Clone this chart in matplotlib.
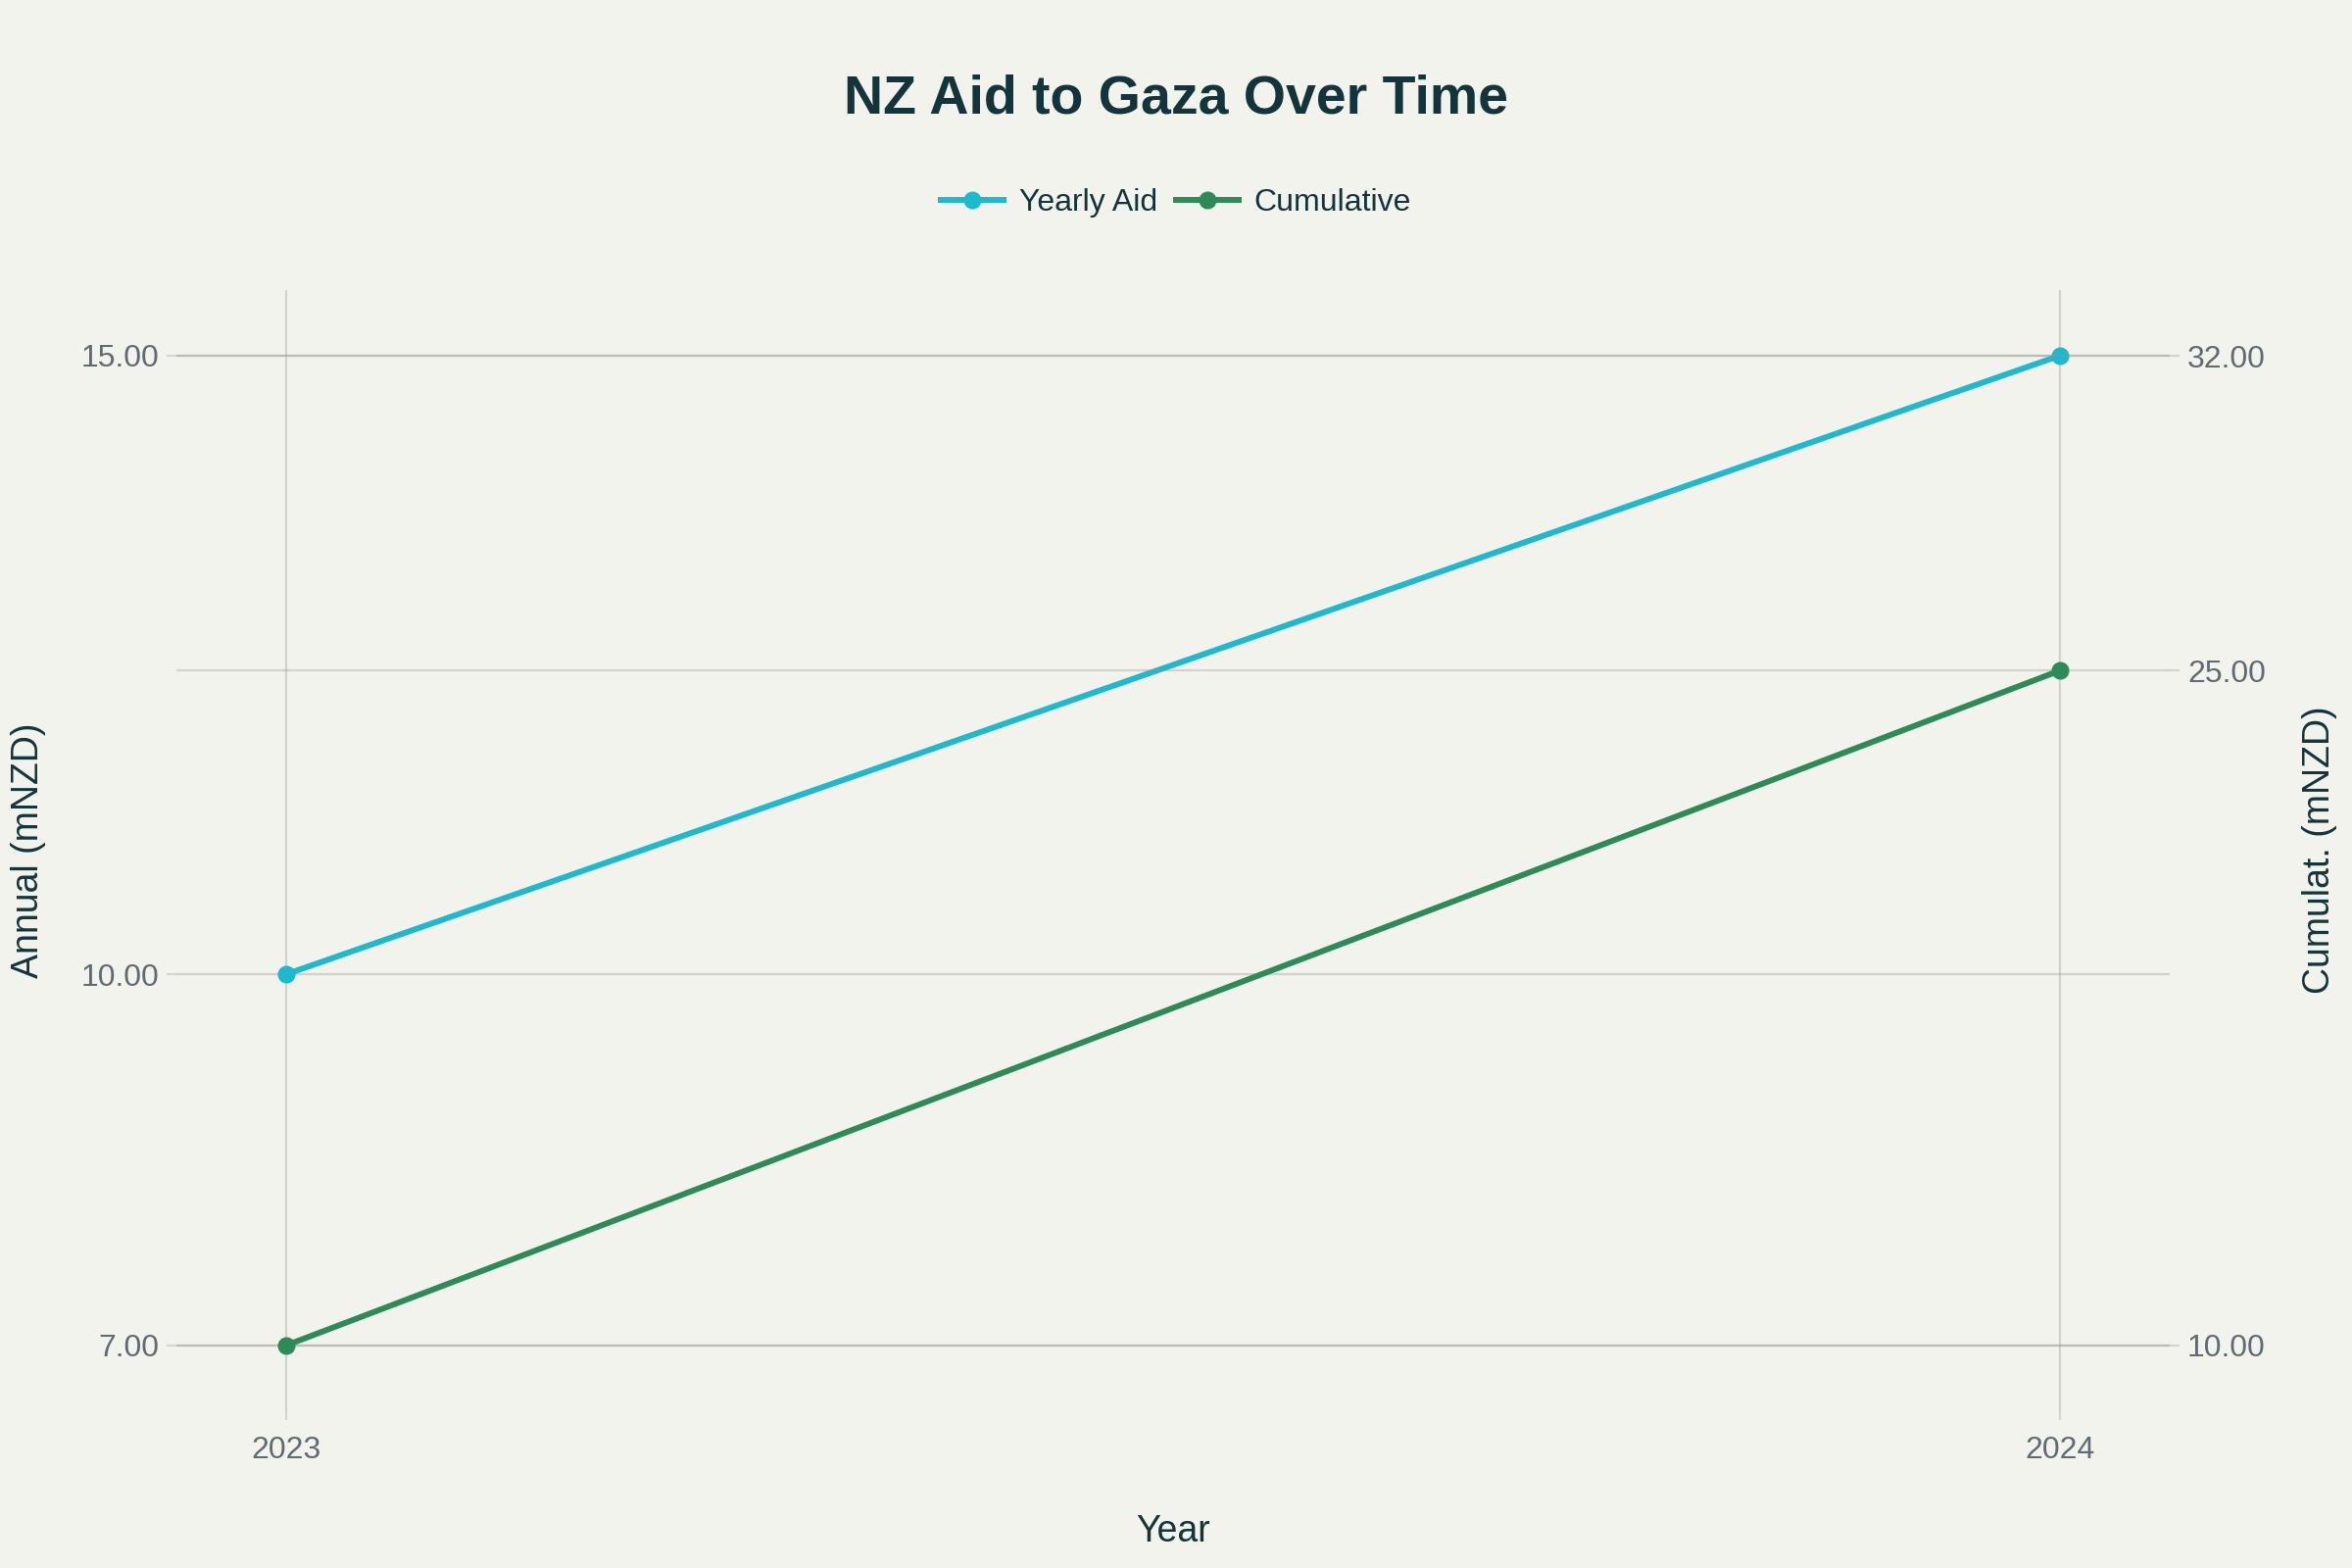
import matplotlib
matplotlib.use("Agg")
import matplotlib.pyplot as plt
from matplotlib.ticker import FormatStrFormatter
from matplotlib.lines import Line2D

# data
years = [2023, 2024]
yearly_aid = [10, 15]
cumulative = [10, 25]

left_ticks = [7, 10, 15]
right_ticks = [10, 25, 32]

bg = '#F3F3EE'
text_dark = '#13343B'
tick_grey = '#5F6B73'
grid_rgb = (0.6, 0.58, 0.53)
cyan = '#1FB8CD'
green = '#2E8B57'

plt.rcParams['font.family'] = ['Liberation Sans', 'DejaVu Sans']

fig = plt.figure(figsize=(24, 16), dpi=100, facecolor=bg)
ax = fig.add_axes([0.075, 0.1006, 0.8475, 0.7144])
ax.set_facecolor(bg)
ax2 = ax.twinx()

ax.plot(years, yearly_aid, color=cyan, lw=4.3, marker='o', ms=12, zorder=5, clip_on=False)
ax2.plot(years, cumulative, color=green, lw=4.3, marker='o', ms=12, zorder=5, clip_on=False)

ax.set_xlim(2022.938, 2024.062)
ax.set_ylim(6.475, 15.53)
ax2.set_ylim(8.556, 33.46)

ax.set_xticks(years)
ax.set_xticklabels([str(y) for y in years])
ax.set_yticks(left_ticks)
ax2.set_yticks(right_ticks)
ax.yaxis.set_major_formatter(FormatStrFormatter('%.2f'))
ax2.yaxis.set_major_formatter(FormatStrFormatter('%.2f'))

for a in (ax, ax2):
    for s in a.spines.values():
        s.set_visible(False)
    a.tick_params(axis='both', colors='#D5D5D0', labelcolor=tick_grey,
                  labelsize=23, length=7, width=1.5, pad=6)
ax.tick_params(axis='x', pad=12)

ax.grid(True, color=grid_rgb, alpha=0.35, lw=1.6)
ax2.grid(True, axis='y', color=grid_rgb, alpha=0.35, lw=1.6)
ax.set_axisbelow(True)
ax2.set_axisbelow(True)

ax.set_xlabel('Year', fontsize=27, color=text_dark, labelpad=36)
ax.set_ylabel('Annual (mNZD)', fontsize=27, color=text_dark, labelpad=25)
ax2.set_ylabel('Cumulat. (mNZD)', fontsize=27, color=text_dark, labelpad=27)

fig.text(0.5, 1 - 102 / 1600, 'NZ Aid to Gaza Over Time', ha='center', va='center',
         fontsize=40, fontweight='bold', color=text_dark)

handles = [Line2D([], [], color=cyan, lw=4.3, marker='o', ms=12),
           Line2D([], [], color=green, lw=4.3, marker='o', ms=12)]
fig.legend(handles, ['Yearly Aid', 'Cumulative'], loc='center',
           bbox_to_anchor=(0.5, 1 - 207 / 1600), ncol=2, frameon=False,
           fontsize=23, labelcolor=text_dark, handlelength=2.0,
           handletextpad=0.5, columnspacing=0.6)

fig.savefig('out.png', dpi=100, facecolor=bg)
